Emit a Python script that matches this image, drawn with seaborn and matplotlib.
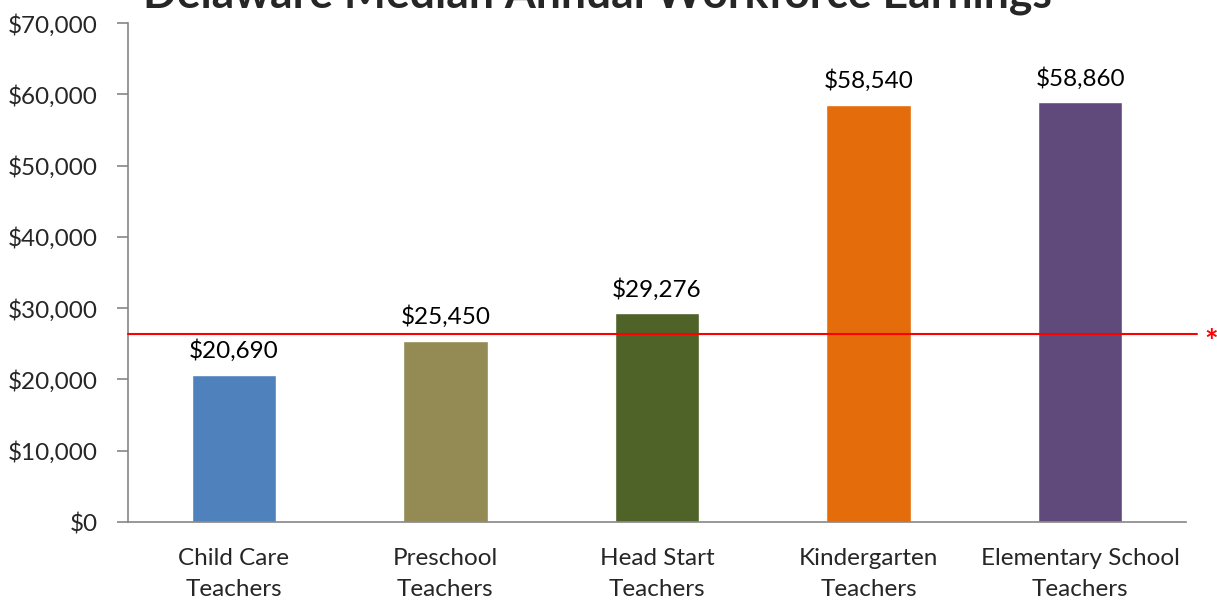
import numpy as np
import pandas as pd
import matplotlib
matplotlib.use("Agg")
import matplotlib.pyplot as plt
import seaborn as sns

# Chart data
categories = ["Child Care\nTeachers", "Preschool\nTeachers", "Head Start\nTeachers",
              "Kindergarten\nTeachers", "Elementary School\nTeachers"]
earnings = [20690, 25450, 29276, 58540, 58860]
bar_colors = ["#4F81BD", "#948A54", "#4F6228", "#E46C0A", "#604A7B"]
reference_level = 26400
yticks = [0, 10000, 20000, 30000, 40000, 50000, 60000, 70000]
title = "Delaware Median Annual Workforce Earnings"


def main():
    sns.set_style("white")
    plt.rcParams["font.family"] = ["Lato", "DejaVu Sans"]

    df = pd.DataFrame({"category": categories, "earnings": earnings})

    fig = plt.figure(figsize=(12.17, 6.01), dpi=100)
    ax = fig.add_axes([0.1052, 0.1314, 0.8693, 0.8303])

    sns.barplot(data=df, x="category", y="earnings", hue="category",
                palette=bar_colors, legend=False, width=0.4, saturation=1,
                ax=ax)

    ax.set_xlim(-0.5, len(categories) - 0.5)
    ax.set_ylim(0, 70000)
    ax.set_yticks(yticks)
    ax.set_yticklabels([f"${v:,.0f}" for v in yticks], fontsize=17.5)
    ax.set_xlabel("")
    ax.set_ylabel("")

    # x ticks at category boundaries, labels centered on bars
    ax.set_xticks(np.arange(len(categories)))
    ax.set_xticklabels(categories, fontsize=17.5, linespacing=1.55)
    ax.tick_params(axis="x", which="major", length=0, pad=19)
    ax.set_xticks(np.arange(len(categories) + 1) - 0.5, minor=True)
    ax.tick_params(axis="x", which="minor", length=8, color="#868686", width=1.2)
    ax.tick_params(axis="y", length=8, color="#868686", width=1.2, pad=14,
                   left=True)

    for side in ["top", "right"]:
        ax.spines[side].set_visible(False)
    for side in ["left", "bottom"]:
        ax.spines[side].set_color("#868686")
        ax.spines[side].set_linewidth(1.2)

    # value labels
    for i, v in enumerate(earnings):
        ax.annotate(f"${v:,.0f}", (i, v), xytext=(0, 9),
                    textcoords="offset points", ha="center", va="bottom",
                    fontsize=17.5, color="black")

    # reference line with asterisk
    ax.plot([-0.5, len(categories) - 0.45], [reference_level, reference_level],
            color="red", linewidth=1.5, clip_on=False, zorder=5)
    ax.annotate("*", (len(categories) - 0.38, reference_level), xytext=(0, -7),
                textcoords="offset points", color="red", fontsize=23,
                fontweight="bold", ha="center", va="center",
                annotation_clip=False)

    fig.text(0.491, 1.008, title, ha="center", va="center",
             fontsize=32, fontweight="bold")

    fig.savefig("out.png", dpi=100)
    plt.close(fig)


if __name__ == "__main__":
    main()
